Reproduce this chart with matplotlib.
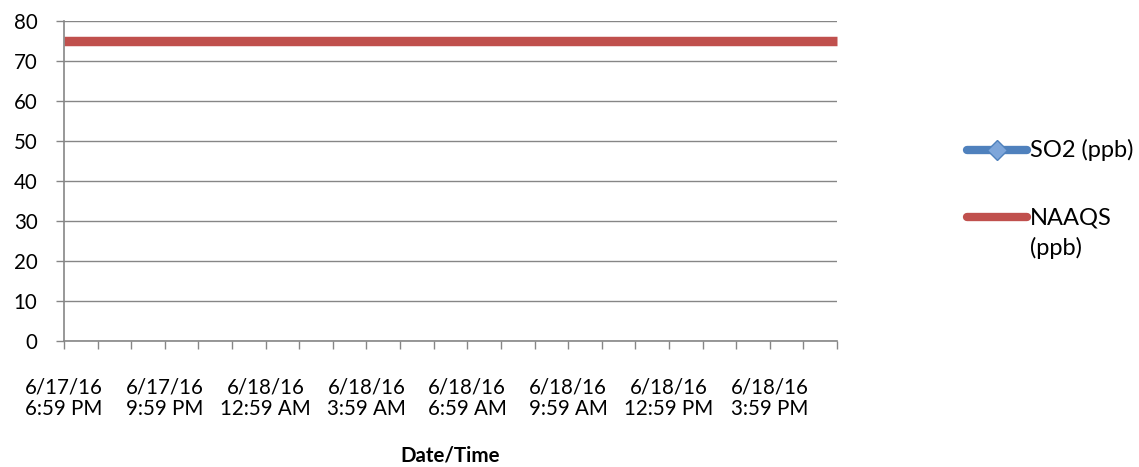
import numpy as np
import matplotlib
matplotlib.use('Agg')
import matplotlib.pyplot as plt
from matplotlib.lines import Line2D

plt.rcParams['font.family'] = ['Lato', 'DejaVu Sans']

# --- data ---
times = ['6/17/16\n6:59 PM', '6/17/16\n7:59 PM', '6/17/16\n8:59 PM',
         '6/17/16\n9:59 PM', '6/17/16\n10:59 PM', '6/17/16\n11:59 PM',
         '6/18/16\n12:59 AM', '6/18/16\n1:59 AM', '6/18/16\n2:59 AM',
         '6/18/16\n3:59 AM', '6/18/16\n4:59 AM', '6/18/16\n5:59 AM',
         '6/18/16\n6:59 AM', '6/18/16\n7:59 AM', '6/18/16\n8:59 AM',
         '6/18/16\n9:59 AM', '6/18/16\n10:59 AM', '6/18/16\n11:59 AM',
         '6/18/16\n12:59 PM', '6/18/16\n1:59 PM', '6/18/16\n2:59 PM',
         '6/18/16\n3:59 PM', '6/18/16\n4:59 PM', '6/18/16\n5:59 PM']
so2 = [None] * 24          # no readings shown
naaqs = [75] * 24
yticks = [0, 10, 20, 30, 40, 50, 60, 70, 80]

blue = '#4F81BD'
red = '#C0504D'
grey = '#868686'
fs = 14.8
fs_leg = 17

fig = plt.figure(figsize=(11.39, 4.67), dpi=100)
ax = fig.add_axes([64 / 1139, 1 - 341 / 467, (837 - 64) / 1139, (341 - 21) / 467])

x = np.arange(len(times))
so2_vals = np.array([np.nan if v is None else v for v in so2], dtype=float)
ax.plot(x, so2_vals, color=blue, lw=6, marker='D', ms=10, mfc='#7EA6DA', mec=blue)
ax.plot(x, naaqs, color=red, lw=6.8, solid_capstyle='butt', clip_on=False)

ax.set_xlim(0, len(times) - 1)
ax.set_ylim(0, 80)
ax.set_yticks(yticks)
ax.grid(axis='y', color=grey, lw=1)
ax.set_axisbelow(True)

ax.set_xticks(x)
ax.set_xticklabels([t if i % 3 == 0 else '' for i, t in enumerate(times)],
                   fontsize=fs, linespacing=1.1)
ax.tick_params(axis='x', length=6, color=grey, width=1, pad=20)
ax.tick_params(axis='y', length=6, color=grey, width=1, labelsize=fs, pad=13)
for s in ['top', 'right']:
    ax.spines[s].set_visible(False)
for s in ['left', 'bottom']:
    ax.spines[s].set_color(grey)
    ax.spines[s].set_linewidth(1.2)

ax.set_xlabel('Date/Time', fontsize=fs, fontweight='bold', labelpad=19)

# --- legend (drawn by hand, Excel style) ---
fig.add_artist(Line2D([967 / 1139, 1027 / 1139], [1 - 150 / 467] * 2,
                      color=blue, lw=6, solid_capstyle='round'))
fig.add_artist(Line2D([997 / 1139], [1 - 150 / 467], marker='D', ms=10,
                      mfc='#7EA6DA', mec=blue, lw=0))
fig.add_artist(Line2D([967 / 1139, 1027 / 1139], [1 - 217 / 467] * 2,
                      color=red, lw=6, solid_capstyle='round'))
fig.text(1030 / 1139, 1 - 157 / 467, 'SO2 (ppb)', fontsize=fs_leg, va='baseline')
fig.text(1030 / 1139, 1 - 224 / 467, 'NAAQS', fontsize=fs_leg, va='baseline')
fig.text(1030 / 1139, 1 - 255 / 467, '(ppb)', fontsize=fs_leg, va='baseline')

fig.savefig('out.png', dpi=100)
